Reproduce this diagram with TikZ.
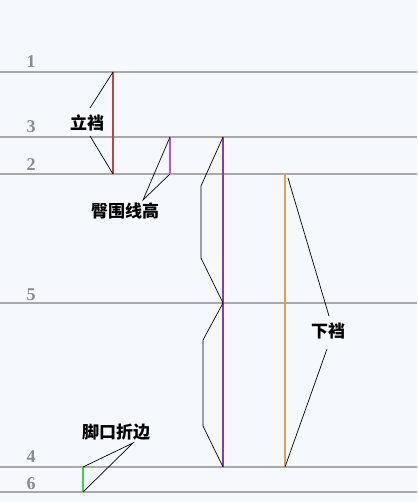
\documentclass[tikz,border=0pt]{standalone}
\usepackage{fontspec}
\newfontfamily\cjk{Noto Sans CJK SC}
\newfontfamily\numfont{Liberation Serif}
\definecolor{bgc}{HTML}{F5F8FC}
\definecolor{gridc}{HTML}{A9A9A9}
\definecolor{numc}{HTML}{8C8C8C}
\definecolor{redc}{HTML}{C0453A}
\definecolor{magc}{HTML}{C050D0}
\definecolor{purc}{HTML}{8A3AB9}
\definecolor{orac}{HTML}{E0A050}
\definecolor{grnc}{HTML}{40D040}
\tikzset{
  level/.style={draw=gridc, line width=1.8pt},
  num/.style={font=\numfont\bfseries\fontsize{18}{18}\selectfont, text=numc, inner sep=0pt},
  lab/.style={font=\cjk\bfseries\fontsize{17}{17}\selectfont, text=black, inner sep=0pt},
  meas/.style={line width=2.6pt},
  lead/.style={draw=black, line width=0.7pt},
}
\begin{document}
\begin{tikzpicture}[x=1pt,y=-1pt]
\useasboundingbox (0,0) rectangle (417,502);
\fill[bgc] (0,0) rectangle (417,502);
% level lines
\foreach \yy/\nn/\ly in {72/1/62, 137/3/127, 174/2/165, 303/5/295, 467/4/457, 492/6/484}{
  \coordinate (L\nn a) at (0,\yy);
  \coordinate (L\nn b) at (417,\yy);
  \draw[level] (L\nn a) -- (L\nn b);
  \node[num] (n\nn) at (31,\ly) {\nn};
}
% measurement lines
\coordinate (rT) at (113,72);  \coordinate (rB) at (113,174);
\coordinate (mT) at (170,137); \coordinate (mB) at (170,174);
\coordinate (pT) at (223,137); \coordinate (pM) at (223,303); \coordinate (pB) at (223,467);
\coordinate (oT) at (285,174); \coordinate (oB) at (285,467);
\coordinate (gT) at (83,467);  \coordinate (gB) at (83,492);
\draw[meas, redc] (rT) -- (rB);
\draw[meas, magc] (mT) -- (mB);
\draw[meas, purc] (pT) -- (pB);
\draw[meas, orac] (oT) -- (oB);
\draw[meas, grnc] (gT) -- (gB);
% labels
\node[lab] (lidang) at (87,123) {立裆};
\node[lab] (tunwei) at (125,211) {臀围线高};
\node[lab] (xiadang) at (328,331) {下裆};
\node[lab] (jiaokou) at (116,432) {脚口折边};
% leaders
\coordinate (a1) at (90,108); \coordinate (a2) at (90,136);
\draw[lead] (a1) -- (rT);
\draw[lead] (a2) -- (rB);
\coordinate (b1) at (143,200);
\draw[lead] (mT) -- (b1) -- (mB);
\coordinate (p1) at (201,186); \coordinate (p2) at (201,258);
\coordinate (p3) at (203,340); \coordinate (p4) at (203,426);
\draw[lead] (pT) -- (p1) -- (p2) -- (pM) -- (p3) -- (p4) -- (pB);
\coordinate (c1) at (288,178); \coordinate (c2) at (329,316);
\coordinate (c3) at (327,349);
\draw[lead] (c1) -- (c2);
\draw[lead] (c3) -- (oB);
\coordinate (d1) at (133,443);
\draw[lead] (gT) -- (d1) -- (gB);
\end{tikzpicture}
\end{document}
